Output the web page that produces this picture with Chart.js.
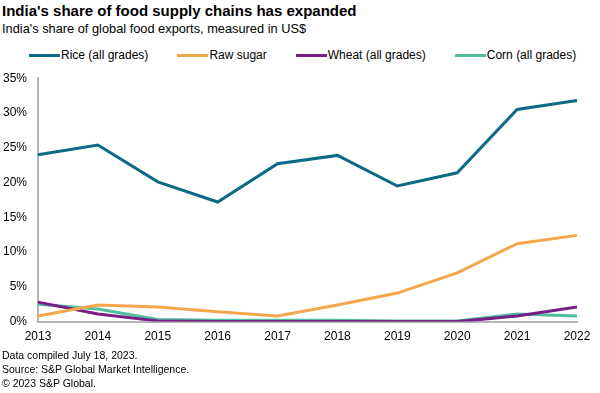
<!DOCTYPE html>
<html>
<head>
<meta charset="utf-8">
<script src="https://cdn.jsdelivr.net/npm/chart.js@4"></script>
<style>
  html, body { margin: 0; padding: 0; background: #fff; }
  body { width: 600px; height: 393px; position: relative; overflow: hidden; font-family: "Liberation Sans", Arial, sans-serif; color: #000; }
  #title { position: absolute; left: 2px; top: 2px; font-size: 15px; font-weight: bold; }
  #subtitle { position: absolute; left: 2px; top: 21px; font-size: 12.8px; }
  #legend { position: absolute; left: 29px; top: 47px; width: 580px; display: flex; font-size: 12px; line-height: 16px; white-space: nowrap; }
  #legend .item { display: flex; align-items: center; margin-right: 29px; flex-shrink: 0; }
  #legend .swatch { width: 31px; height: 3px; margin-right: 1px; flex-shrink: 0; }
  #wrap { position: absolute; left: 0; top: 60px; width: 600px; height: 292px; }
  .foot { position: absolute; left: 2px; font-size: 10.5px; }
</style>
</head>
<body>
<div id="title">India's share of food supply chains has expanded</div>
<div id="subtitle">India's share of global food exports, measured in US$</div>
<div id="legend"></div>
<div id="wrap"><canvas id="line-chart"></canvas></div>
<div class="foot" style="top:349px">Data compiled July 18, 2023.</div>
<div class="foot" style="top:363px">Source: S&amp;P Global Market Intelligence.</div>
<div class="foot" style="top:377px">© 2023 S&amp;P Global.</div>
<script>
const years = ['2013', '2014', '2015', '2016', '2017', '2018', '2019', '2020', '2021', '2022'];
const rice = [24.0, 25.4, 20.1, 17.2, 22.7, 23.9, 19.5, 21.4, 30.5, 31.8];
const sugar = [0.8, 2.4, 2.1, 1.4, 0.8, 2.4, 4.1, 7.0, 11.2, 12.4];
const wheat = [2.8, 1.1, 0.1, 0.0, 0.0, 0.0, 0.0, 0.0, 0.8, 2.1];
const corn = [2.5, 1.8, 0.3, 0.2, 0.2, 0.2, 0.1, 0.1, 1.1, 0.8];
const yTicks = [0, 5, 10, 15, 20, 25, 30, 35];

const lineCtx = document.getElementById('line-chart');

function series(label, data, color) {
    return {
        label: label,
        data: data,
        borderColor: color,
        backgroundColor: color,
        borderWidth: 3,
        pointRadius: 0,
        tension: 0
    };
}

const chart = new Chart(lineCtx, {
    type: 'line',
    data: {
        labels: years,
        datasets: [
            series('Rice (all grades)', rice, '#0b6a84'),
            series('Raw sugar', sugar, '#f4a84c'),
            series('Wheat (all grades)', wheat, '#761f84'),
            series('Corn (all grades)', corn, '#52bd9f')
        ]
    },
    options: {
        responsive: true,
        maintainAspectRatio: false,
        animation: false,
        layout: { padding: { left: 0, right: 23, top: 9, bottom: 0 } },
        scales: {
            x: {
                offset: false,
                grid: { display: false, drawTicks: false },
                border: { display: true, color: '#b4b4b4', width: 2 },
                ticks: { color: '#000', font: { family: 'Liberation Sans', size: 12 }, padding: 8, maxRotation: 0 }
            },
            y: {
                min: 0,
                max: 35,
                afterBuildTicks: axis => { axis.ticks = yTicks.map(v => ({ value: v })); },
                afterFit: axis => { axis.width = 38; },
                grid: { display: false, drawTicks: false },
                border: { display: true, color: '#b4b4b4', width: 2 },
                ticks: {
                    color: '#000',
                    font: { family: 'Liberation Sans', size: 12 },
                    padding: 11,
                    callback: v => v + '%'
                }
            }
        },
        plugins: {
            legend: { display: false },
            tooltip: { enabled: false }
        }
    }
});

// legend in html, built from the datasets
const legendBox = document.getElementById('legend');
chart.data.datasets.forEach(ds => {
    const item = document.createElement('div');
    item.className = 'item';
    const sw = document.createElement('span');
    sw.className = 'swatch';
    sw.style.background = ds.borderColor;
    const txt = document.createElement('span');
    txt.textContent = ds.label;
    item.appendChild(sw);
    item.appendChild(txt);
    legendBox.appendChild(item);
});
</script>
</body>
</html>
